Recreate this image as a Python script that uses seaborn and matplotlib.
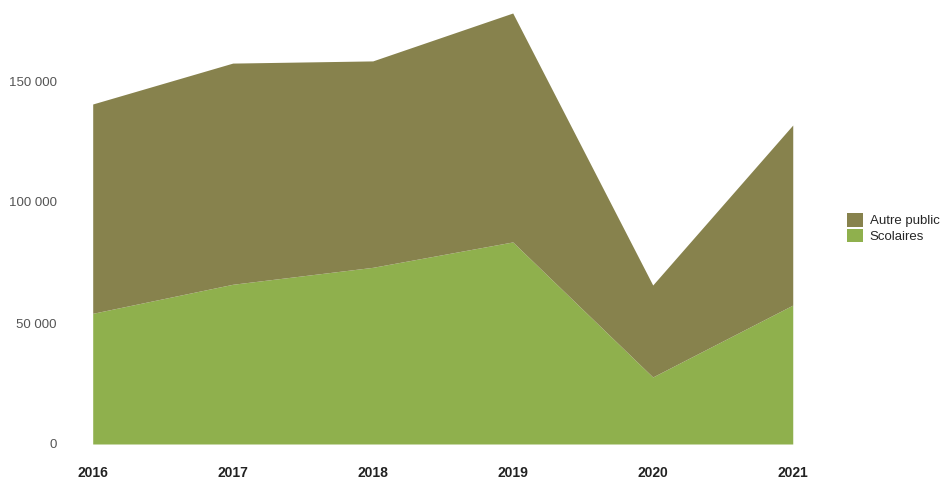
import matplotlib
matplotlib.use("Agg")
import matplotlib.pyplot as plt
import seaborn as sns
import numpy as np
from matplotlib.ticker import FuncFormatter
from matplotlib.patches import Patch

sns.set_theme(style="white")
plt.rcParams['font.family'] = ['Liberation Sans', 'DejaVu Sans']

years = [2016, 2017, 2018, 2019, 2020, 2021]
scolaires = [54000, 66000, 73000, 83500, 27700, 57400]
autre_public = [86500, 91400, 85300, 94600, 38000, 74400]

series_names = ["Autre public", "Scolaires"]
colors = {"Autre public": "#87824d", "Scolaires": "#8fb04d"}

fig = plt.figure(figsize=(9.46, 4.8), dpi=100)
ax = fig.add_axes([0.098, 0.075, 0.740, 0.9075])

ax.stackplot(years, scolaires, autre_public,
             colors=[colors["Scolaires"], colors["Autre public"]],
             linewidth=0)

ax.set_xlim(2016, 2021)
ax.set_ylim(0, 180000)
ax.set_yticks([0, 50000, 100000, 150000])
ax.yaxis.set_major_formatter(FuncFormatter(lambda v, p: f"{int(v):,}".replace(",", " ")))
ax.set_xticks(years)
ax.set_xticklabels([str(y) for y in years], fontweight="bold")
ax.tick_params(axis="x", pad=16, labelsize=10, colors="#222222", length=0)
ax.tick_params(axis="y", pad=26, labelsize=9.5, colors="#555555", length=0)
for s in ax.spines.values():
    s.set_visible(False)
ax.grid(False)
ax.set_xlabel("")
ax.set_ylabel("")

handles = [Patch(facecolor=colors[n], edgecolor="none") for n in series_names]
fig.legend(handles, series_names, loc="center left", bbox_to_anchor=(0.883, 0.525),
           frameon=False, fontsize=9.5, handlelength=1.2, handleheight=1.2,
           handletextpad=0.5, labelspacing=0.1)

fig.savefig("out.png", dpi=100, facecolor="white")
